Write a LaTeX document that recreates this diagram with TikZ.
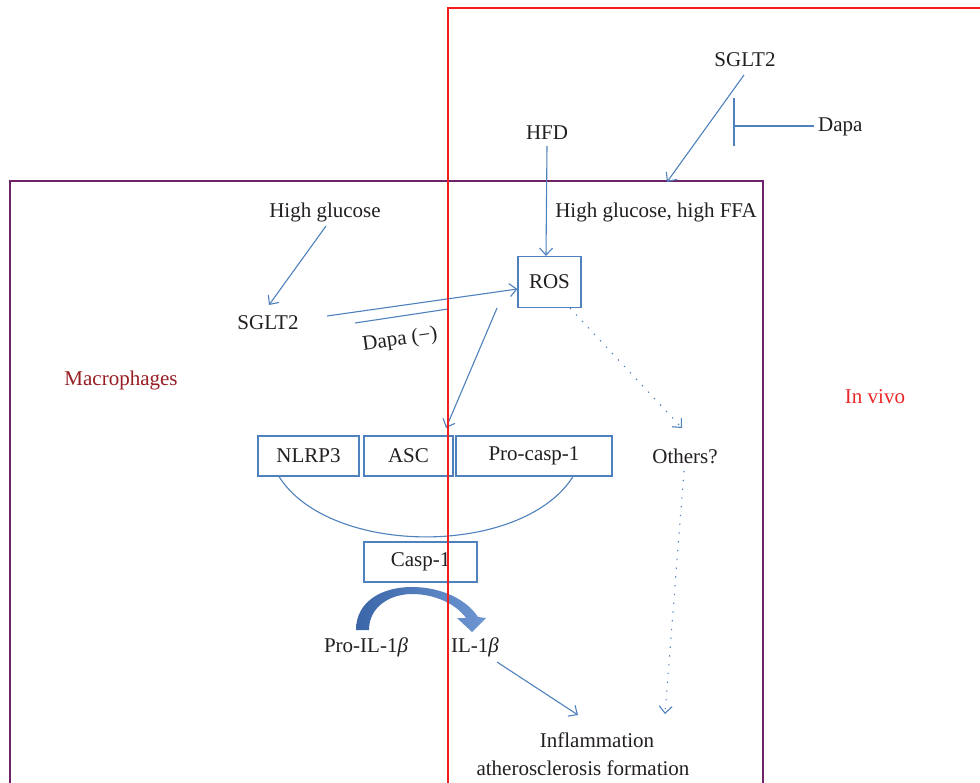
\documentclass[tikz,border=0pt]{standalone}
\usepackage{fontspec}
\setmainfont{Liberation Serif}
\usetikzlibrary{arrows.meta}
\definecolor{lblue}{RGB}{79,129,189}
\definecolor{dblue}{RGB}{58,102,168}
\definecolor{mblue}{RGB}{110,150,210}
\definecolor{vred}{RGB}{240,30,30}
\definecolor{vpurple}{RGB}{110,35,105}
\definecolor{macro}{RGB}{150,30,35}
\definecolor{ivred}{RGB}{235,40,40}
\definecolor{txt}{RGB}{35,31,32}
\tikzset{
  lbl/.style={inner sep=0pt, text=txt, font=\fontsize{21}{24}\selectfont},
  bx/.style={draw=lblue, line width=1.2pt, inner sep=0pt, text=txt, font=\fontsize{21}{24}\selectfont},
  conn/.style={draw=lblue, line width=1.1pt, -{Straight Barb[length=7pt,width=13pt,line width=1.1pt]}},
  dotconn/.style={conn, dash pattern=on 1.3pt off 7.5pt},
  plainline/.style={draw=lblue, line width=1.1pt},
}
\begin{document}
\begin{tikzpicture}[x=1pt,y=-1pt]
\useasboundingbox (0,0) rectangle (980,782);
\clip (0,0) rectangle (980,782);
\fill[white] (0,0) rectangle (980,782);

% purple frame (macrophages)
\draw[vpurple, line width=1.4pt] (10,800) -- (10,181) -- (763,181) -- (763,800);

% texts
\node[lbl] (sglttop) at (745,60) {SGLT2};
\node[lbl, anchor=west] (dapa) at (818,127) {Dapa};
\node[lbl] (hfd) at (547,133) {HFD};
\node[lbl] (hgffa) at (656,212) {High glucose, high FFA};
\node[lbl] (hg) at (325,212) {High glucose};
\node[lbl] (sgltl) at (268,323) {SGLT2};
\node[lbl, rotate=8] (dapam) at (400,340) {Dapa (−)};
\node[lbl, text=macro] (macro) at (121,380) {Macrophages};
\node[lbl, text=ivred] (invivo) at (875,397) {In vivo};
\node[lbl] (others) at (685,456) {Others?};
\node[lbl] (proil) at (366,647) {Pro-IL-1\textit{β}};
\node[lbl] (il) at (475,647) {IL-1\textit{β}};
\node[lbl] (infl) at (597,740) {Inflammation};
\node[lbl] (ath) at (583,768) {atherosclerosis formation};

% boxes
\node[bx, minimum width=63pt, minimum height=51pt] (ros) at (549.5,282) {ROS};
\node[bx, minimum width=101pt, minimum height=40pt] (nlrp) at (308.5,456) {NLRP3};
\node[bx, minimum width=89pt, minimum height=40pt] (asc) at (408.5,456) {ASC};
\node[bx, minimum width=156pt, minimum height=40pt] (pcasp) at (534,456) {Pro-casp-1};
\node[bx, minimum width=113pt, minimum height=40pt] (casp) at (420.5,562) {Casp-1};

% coordinates
\coordinate (hgffaTop) at (667,182);
\coordinate (barTop) at (734,98);
\coordinate (barBot) at (734,146);
\coordinate (barMid) at (734,126);
\coordinate (dapaEnd) at (355,323);
\coordinate (dapaEnd2) at (448,309);
\coordinate (ascTop) at (446,428);
\coordinate (othTop) at (682,428);
\coordinate (inflA) at (578,715);
\coordinate (inflB) at (665,714);

% connectors
\draw[conn] (744,75) -- (hgffaTop);
\draw[plainline] (814,126) -- (barMid);
\draw[plainline] (barTop) -- (barBot);
\draw[conn] (547,146) -- (ros.north -| 546,0);
\draw[conn] (326,226) -- (269,305);
\draw[conn] (327,316) -- (ros.west |- 0,289);
\draw[plainline] (dapaEnd) -- (dapaEnd2);
\draw[conn] (ros.south -| 497,0) -- (ascTop);
\draw[dotconn] (ros.south -| 570,0) -- (othTop);
\draw[dotconn] (684,471) -- (inflB);
\draw[conn] (497,662) -- (inflA);

% arc under inflammasome
\draw[plainline] (nlrp.south -| 279,0) .. controls (330,557) and (522,557) .. (pcasp.south -| 573,0);

% big curved arrow
\shade[left color=dblue, right color=mblue]
  (356,630) .. controls (356,602) and (381,587) .. (412,587)
  .. controls (442,587) and (467,600) .. (478,617)
  -- (486,618) -- (472,632) -- (457,618) -- (466,618)
  .. controls (456,604) and (435,594) .. (412,594)
  .. controls (391,594) and (369,606) .. (369,630) -- cycle;

% red frame (in vivo)
\draw[vred, line width=1.4pt] (448,800) -- (448,8) -- (1000,8);
\end{tikzpicture}
\end{document}
